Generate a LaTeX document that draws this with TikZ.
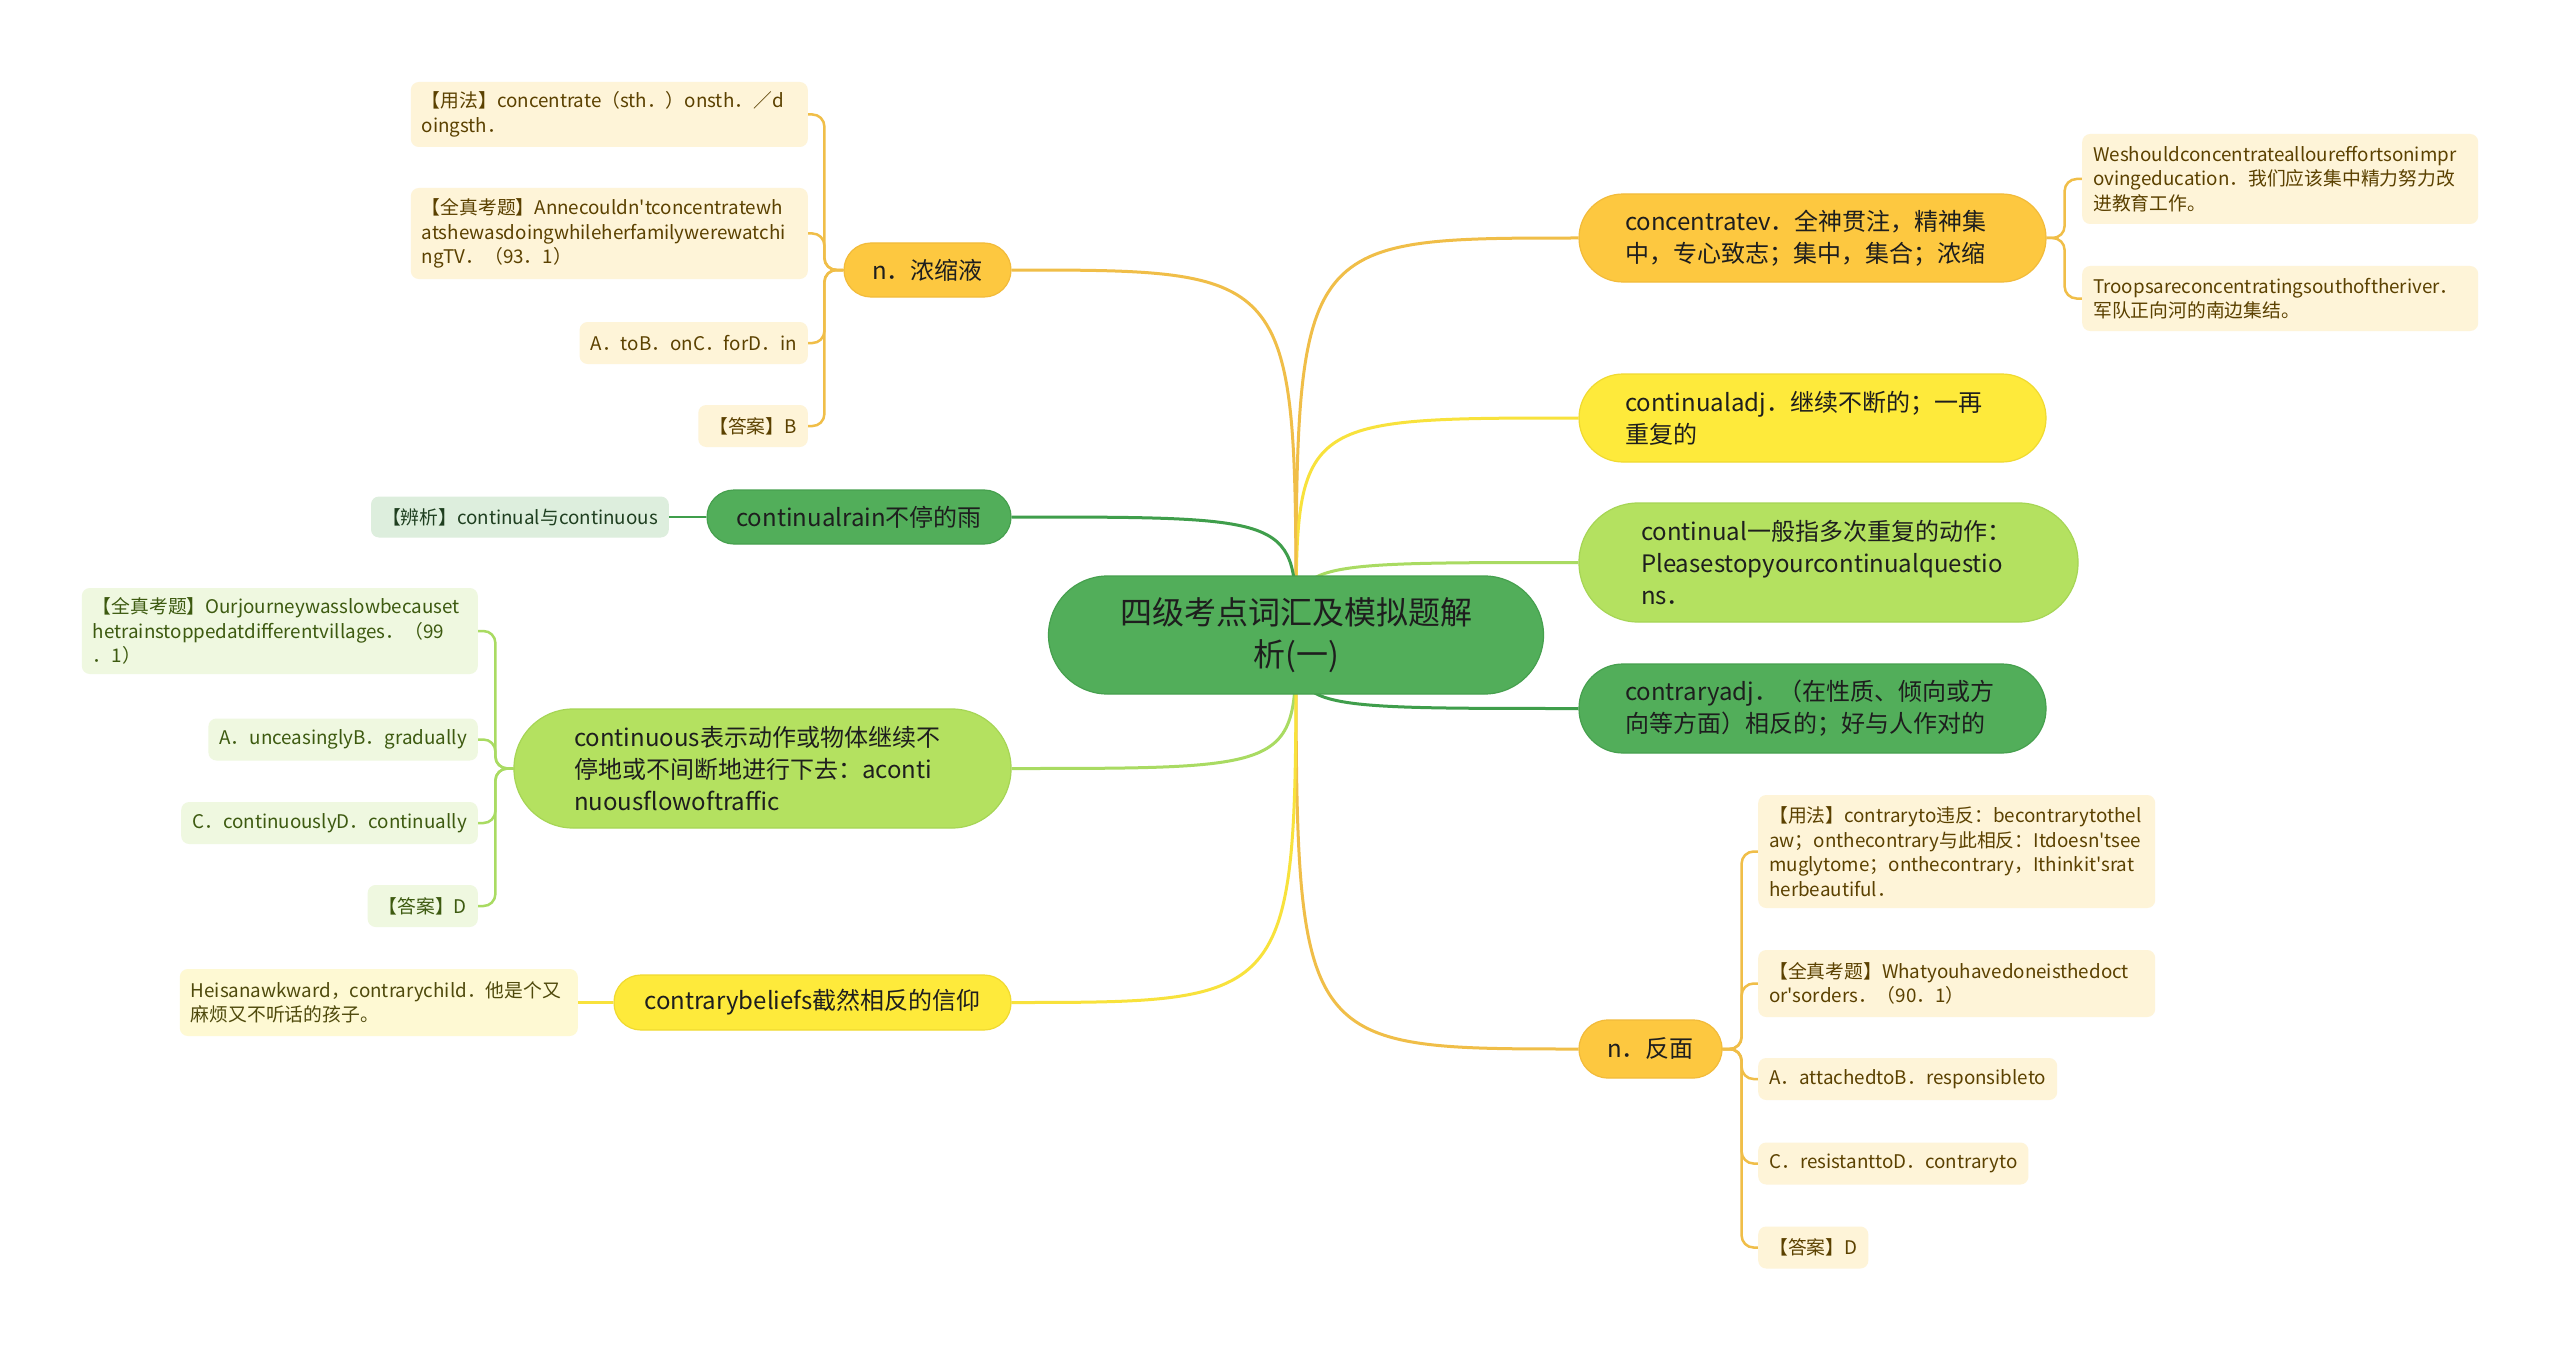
\documentclass[tikz,border=0pt]{standalone}
\usepackage{fontspec}
\setmainfont{Noto Sans CJK SC}[Ligatures=TeXOff]
\usetikzlibrary{backgrounds}
\hyphenpenalty=10000
\exhyphenpenalty=10000
\definecolor{goldf}{HTML}{FDC840}
\definecolor{goldd}{HTML}{F2BB3A}
\definecolor{goldl}{HTML}{F0BE48}
\definecolor{yelf}{HTML}{FEEA3B}
\definecolor{yeld}{HTML}{F0DA30}
\definecolor{yell}{HTML}{F8E23C}
\definecolor{lgf}{HTML}{B4E160}
\definecolor{lgd}{HTML}{A6D555}
\definecolor{lgl}{HTML}{A9DB62}
\definecolor{grf}{HTML}{52AE5A}
\definecolor{grd}{HTML}{46A04E}
\definecolor{grl}{HTML}{3F9E4B}
\definecolor{creamf}{HTML}{FEF4D8}
\definecolor{creamt}{HTML}{5B4100}
\definecolor{lgbf}{HTML}{EFF8E0}
\definecolor{lgbt}{HTML}{3D5A10}
\definecolor{bxf}{HTML}{DDEEDD}
\definecolor{bxt}{HTML}{1F3F20}
\definecolor{lybf}{HTML}{FEF9D3}
\definecolor{lybt}{HTML}{4F4A0C}
\definecolor{txtd}{HTML}{1E1E1E}
\newcommand\rootfs{\fontsize{32pt}{42pt}\selectfont}
\newcommand\mainfs{\fontsize{24pt}{32pt}\selectfont}
\newcommand\smallfs{\fontsize{18.8pt}{24.5pt}\selectfont}
\begin{document}
\begin{tikzpicture}[x=1pt,y=-1pt,
  every node/.style={inner sep=0pt},
  pill/.style={font=\mainfs, text=txtd, align=left, line width=1.2pt},
  gold/.style={fill=goldf, draw=goldd},
  yel/.style={fill=yelf, draw=yeld},
  lg/.style={fill=lgf, draw=lgd},
  gr/.style={fill=grf, draw=grd},
  leaf/.style={rounded corners=8pt, font=\smallfs, align=left, inner xsep=11pt, minimum height=42pt},
  cream/.style={leaf, fill=creamf, text=creamt},
  lgbox/.style={leaf, fill=lgbf, text=lgbt},
  bxbox/.style={leaf, fill=bxf, text=bxt},
  lybox/.style={leaf, fill=lybf, text=lybt},
  ln/.style={draw=#1, line width=3pt},
  cl/.style={draw=#1, line width=2.5pt, rounded corners=12pt}
]
\useasboundingbox (0,0) rectangle (2560,1351);

% root
\node[pill, gr, font=\rootfs, align=center, text width=420pt, minimum width=495pt, minimum height=118pt, rounded corners=59pt] (root) at (1296,635) {四级考点词汇及模拟题解\\析(一)};

% right main nodes
\node[pill, gold, text width=375pt, minimum width=467pt, minimum height=88pt, rounded corners=44pt] (conc) at (1812.5,238) {concentratev．全神贯注，精神集\\中，专心致志；集中，集合；浓缩};
\node[pill, yel, text width=375pt, minimum width=467pt, minimum height=88pt, rounded corners=44pt] (contadj) at (1812.5,418) {continualadj．继续不断的；一再\\重复的};
\node[pill, lg, text width=375pt, minimum width=499pt, minimum height=119pt, rounded corners=59pt] (cont1) at (1828.5,562.5) {continual一般指多次重复的动作：\\Pleasestopyourcontinualquestio\\ns．};
\node[pill, gr, text width=375pt, minimum width=467pt, minimum height=89pt, rounded corners=44pt] (contrary) at (1812.5,708.5) {contraryadj．（在性质、倾向或方\\向等方面）相反的；好与人作对的};
\node[pill, gold, align=center, minimum width=143pt, minimum height=58pt, rounded corners=29pt] (fanmian) at (1650.5,1049) {n．反面};

% left main nodes
\node[pill, gold, align=center, minimum width=167pt, minimum height=54pt, rounded corners=27pt] (nsy) at (927.5,270) {n．浓缩液};
\node[pill, gr, align=center, minimum width=304pt, minimum height=54pt, rounded corners=27pt] (crain) at (859,517) {continualrain不停的雨};
\node[pill, lg, text width=377pt, minimum width=497pt, minimum height=119pt, rounded corners=59pt] (cous) at (762.5,768.5) {continuous表示动作或物体继续不\\停地或不间断地进行下去：aconti\\nuousflowoftraffic};
\node[pill, yel, align=center, minimum width=397pt, minimum height=55pt, rounded corners=27pt] (cbel) at (812.5,1002.5) {contrarybeliefs截然相反的信仰};

% right leaves
\node[cream, text width=374pt, minimum height=90pt, anchor=west] (we) at (2082,179) {Weshouldconcentratealloureffortsonimpr\\ovingeducation．我们应该集中精力努力改\\进教育工作。};
\node[cream, text width=374pt, minimum height=65pt, anchor=west] (troops) at (2082,298.5) {Troopsareconcentratingsouthoftheriver．\\军队正向河的南边集结。};
\node[cream, text width=375pt, minimum height=113pt, anchor=west] (yf2) at (1758,851.5) {【用法】contraryto违反：becontrarytothel\\aw；onthecontrary与此相反：Itdoesn'tsee\\muglytome；onthecontrary，Ithinkit'srat\\herbeautiful．};
\node[cream, text width=375pt, minimum height=67pt, anchor=west] (zk2) at (1758,983.5) {【全真考题】Whatyouhavedoneisthedoct\\or'sorders．（90．1）};
\node[cream, anchor=west] (a2) at (1758,1079) {A．attachedtoB．responsibleto};
\node[cream, anchor=west] (c2) at (1758,1163.5) {C．resistanttoD．contraryto};
\node[cream, anchor=west] (d2) at (1758,1247.5) {【答案】D};

% left leaves
\node[cream, text width=375pt, minimum height=65pt, anchor=east] (yf1) at (808,114.5) {【用法】concentrate（sth．）onsth．／d\\oingsth．};
\node[cream, text width=375pt, minimum height=91pt, anchor=east] (zk1) at (808,233.5) {【全真考题】Annecouldn'tconcentratewh\\atshewasdoingwhileherfamilywerewatchi\\ngTV．（93．1）};
\node[cream, anchor=east] (a1) at (808,343) {A．toB．onC．forD．in};
\node[cream, anchor=east] (b1) at (808,426) {【答案】B};
\node[bxbox, minimum height=41pt, anchor=east] (bx) at (669,517) {【辨析】continual与continuous};
\node[lgbox, text width=374pt, minimum height=86pt, anchor=east] (zk3) at (478,631) {【全真考题】Ourjourneywasslowbecauset\\hetrainstoppedatdifferentvillages．（99\\．1）};
\node[lgbox, anchor=east] (a3) at (478,739.5) {A．unceasinglyB．gradually};
\node[lgbox, anchor=east] (c3) at (478,823) {C．continuouslyD．continually};
\node[lgbox, anchor=east] (d3) at (478,906) {【答案】D};
\node[lybox, text width=376pt, minimum height=67pt, anchor=east] (he) at (578,1002.5) {Heisanawkward，contrarychild．他是个又\\麻烦又不听话的孩子。};

\begin{scope}[on background layer]
  \fill[white] (0,0) rectangle (2560,1351);
  % root to main nodes
  \draw[ln=goldl] (root.center) .. controls (root.center |- conc.west) .. (conc.west);
  \draw[ln=yell] (root.center) .. controls (root.center |- contadj.west) .. (contadj.west);
  \draw[ln=lgl] (root.center) .. controls (root.center |- cont1.west) .. (cont1.west);
  \draw[ln=grl] (root.center) .. controls (root.center |- contrary.west) .. (contrary.west);
  \draw[ln=goldl] (root.center) .. controls (root.center |- fanmian.west) .. (fanmian.west);
  \draw[ln=goldl] (root.center) .. controls (root.center |- nsy.east) .. (nsy.east);
  \draw[ln=grl] (root.center) .. controls (root.center |- crain.east) .. (crain.east);
  \draw[ln=lgl] (root.center) .. controls (root.center |- cous.east) .. (cous.east);
  \draw[ln=yell] (root.center) .. controls (root.center |- cbel.east) .. (cbel.east);
  % children
  \draw[cl=goldl] (conc.east) -- ++(18,0) |- (we.west);
  \draw[cl=goldl] (conc.east) -- ++(18,0) |- (troops.west);
  \draw[cl=goldl] (fanmian.east) -- ++(19,0) |- (yf2.west);
  \draw[cl=goldl] (fanmian.east) -- ++(19,0) |- (zk2.west);
  \draw[cl=goldl] (fanmian.east) -- ++(19,0) |- (a2.west);
  \draw[cl=goldl] (fanmian.east) -- ++(19,0) |- (c2.west);
  \draw[cl=goldl] (fanmian.east) -- ++(19,0) |- (d2.west);
  \draw[cl=goldl] (nsy.west) -- ++(-19,0) |- (yf1.east);
  \draw[cl=goldl] (nsy.west) -- ++(-19,0) |- (zk1.east);
  \draw[cl=goldl] (nsy.west) -- ++(-19,0) |- (a1.east);
  \draw[cl=goldl] (nsy.west) -- ++(-19,0) |- (b1.east);
  \draw[cl=grl] (crain.west) -- (bx.east);
  \draw[cl=lgl] (cous.west) -- ++(-18,0) |- (zk3.east);
  \draw[cl=lgl] (cous.west) -- ++(-18,0) |- (a3.east);
  \draw[cl=lgl] (cous.west) -- ++(-18,0) |- (c3.east);
  \draw[cl=lgl] (cous.west) -- ++(-18,0) |- (d3.east);
  \draw[cl=yell] (cbel.west) -- (he.east);
\end{scope}
\end{tikzpicture}
\end{document}
